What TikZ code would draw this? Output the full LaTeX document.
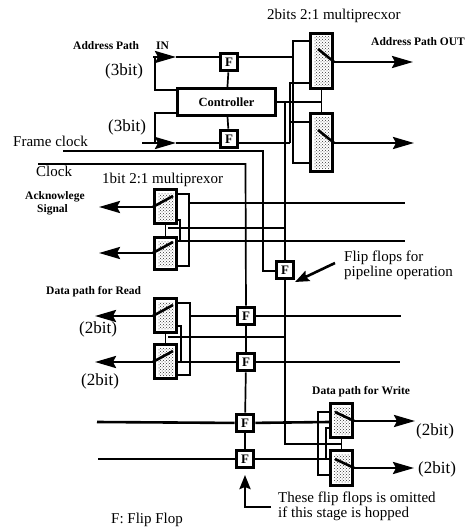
\documentclass[tikz,border=0pt]{standalone}
\usepackage{fontspec}
\setmainfont{Liberation Serif}
\usetikzlibrary{arrows.meta,patterns}
\tikzset{
  bus/.style={black, line width=2.6pt},
  wire/.style={black, line width=1.7pt},
  busarrow/.style={black, line width=2.6pt, -{Stealth[length=21pt,width=12pt,inset=3pt]}},
  pointer/.style={black, line width=2.6pt, -{Stealth[length=14pt,width=11pt,inset=2pt]}},
  ffbox/.style={draw, line width=3.4pt, fill=white, minimum size=17.5pt, inner sep=0pt, font=\bfseries\fontsize{13}{13}\selectfont},
  muxbox/.style={draw, line width=3.4pt, pattern=crosshatch dots, pattern color=black!80, minimum width=22pt, inner sep=0pt,
    path picture={\draw[white, line width=6pt] (path picture bounding box.south west) rectangle (path picture bounding box.north east);}},
  ctrlbox/.style={draw, line width=3.4pt, fill=white, minimum width=98pt, minimum height=27pt, font=\bfseries\fontsize{12.5}{12.5}\selectfont},
  bigtxt/.style={anchor=west, inner sep=0pt, font=\fontsize{15}{15}\selectfont},
  bittxt/.style={anchor=west, inner sep=0pt, font=\fontsize{17}{17}\selectfont},
  smalltxt/.style={anchor=west, inner sep=0pt, font=\bfseries\fontsize{11.5}{11.5}\selectfont},
}
\begin{document}
\begin{tikzpicture}[x=1pt, y=-1pt]
\useasboundingbox (0,0) rectangle (470,527);
% boxes
\node[ctrlbox] (ctrl) at (226.5,102) {Controller};
\node[ffbox] (ffUp) at (229,62) {F};
\node[ffbox] (ffLow) at (229,139) {F};
\node[ffbox] (ffPipe) at (285,270) {F};
\node[ffbox] (ffRdA) at (246,316) {F};
\node[ffbox] (ffRdB) at (246,362) {F};
\node[ffbox] (ffWrA) at (245,423) {F};
\node[ffbox] (ffWrB) at (245,459) {F};
\node[muxbox, minimum height=55pt] (muxTop) at (321.5,61) {};
\node[muxbox, minimum height=58pt] (muxBot) at (321.5,142.5) {};
\node[muxbox, minimum height=34pt] (muxAckA) at (165.5,206.5) {};
\node[muxbox, minimum height=32pt] (muxAckB) at (165.5,253.5) {};
\node[muxbox, minimum height=34pt] (muxRdA) at (165.5,315.5) {};
\node[muxbox, minimum height=34pt] (muxRdB) at (165.5,361.5) {};
\node[muxbox, minimum height=34pt] (muxWrA) at (341.5,420.5) {};
\node[muxbox, minimum height=35pt] (muxWrB) at (341.5,468) {};
% free ends
\coordinate (inUp) at (153,57);
\coordinate (inLow) at (142,143);
\coordinate (frameStart) at (63,151);
\coordinate (clockStart) at (38,164);
\coordinate (ackOutA) at (99,207);
\coordinate (ackOutB) at (99,253);
\coordinate (rdOutA) at (95,316);
\coordinate (rdOutB) at (95,362);
\coordinate (topOutA) at (413,62);
\coordinate (topOutB) at (414,143);
\coordinate (wrOutA) at (415,421);
\coordinate (wrOutB) at (414,468);
\coordinate (wrInA) at (97,422);
\coordinate (wrInB) at (98,459);
\coordinate (ackInA) at (405,203);
\coordinate (ackInB) at (405,241);
\coordinate (rdInA) at (401,316);
\coordinate (rdInB) at (400,362);
% address path
\draw[busarrow] (inUp) -- (176,57);
\draw[bus] (176,57) -- (ffUp.west |- 0,57);
\draw[busarrow] (inLow) -- (176,143);
\draw[bus] (176,143) -- (ffLow.west |- 0,143);
\draw[bus] (155,57) |- (ctrl.west |- 0,90);
\draw[bus] (155,143) |- (ctrl.west |- 0,113);
\draw[wire] (ffUp) -- (ctrl);
\draw[wire] (ctrl) -- (ffLow);
\draw[bus] (ffUp.east |- 0,57) -- (293,57);
\draw[bus] (ffLow.east |- 0,143) -- (290,143);
\draw[bus] (muxTop.west |- 0,41) -| (293,163) -- (muxBot.west |- 0,163);
\draw[bus] (muxTop.west |- 0,83) -| (290,143);
\draw[bus] (290,122) -- (muxBot.west |- 0,122);
\draw[wire] (muxTop) -- (muxBot);
\draw[wire] (ctrl) -- (290,102);
\draw[wire] (290,102) -- (321,102);
\draw[busarrow] (muxTop.east |- topOutA) -- (topOutA);
\draw[busarrow] (muxBot.east |- topOutB) -- (topOutB);
\draw[bus] (318,49) -- (muxTop.east |- topOutA);
\draw[bus] (318,130) -- (muxBot.east |- topOutB);
% clocks
\draw[wire] (frameStart) -- (263,151) -- (263,271) -- (ffPipe.west |- 0,271);
\draw[wire] (clockStart) -- (245.5,164) -- (ffRdA);
\draw[wire] (ffRdA) -- (ffRdB);
\draw[wire] (ffRdB) -- (ffWrA);
\draw[wire] (ffWrA) -- (ffWrB);
% select line
\draw[wire] (285,102) -- (ffPipe);
\draw[wire] (ffPipe) -- (285,444) -- (muxWrA.south |- 0,444);
\draw[wire] (285,228) -- (168,228);
\draw[wire] (285,337) -- (168,337);
\draw[wire] (muxAckA) -- (muxAckB);
\draw[wire] (muxRdA) -- (muxRdB);
\draw[wire] (muxWrA) -- (muxWrB);
% acknowledge
\draw[busarrow] (muxAckA.west |- ackOutA) -- (ackOutA);
\draw[busarrow] (muxAckB.west |- ackOutB) -- (ackOutB);
\draw[bus] (173,196) -- (muxAckA.west |- ackOutA);
\draw[bus] (173,242) -- (muxAckB.west |- ackOutB);
\draw[wire] (muxAckA.east |- 0,194) -| (189,266) -- (muxAckB.east |- 0,266);
\draw[wire] (189,203) -- (ackInA);
\draw[wire] (muxAckB.east |- 0,241) -- (ackInB);
\draw[bus] (muxAckA.east |- 0,220) -| (180,241);
% read
\draw[busarrow] (muxRdA.west |- rdOutA) -- (rdOutA);
\draw[busarrow] (muxRdB.west |- rdOutB) -- (rdOutB);
\draw[bus] (173,305) -- (muxRdA.west |- rdOutA);
\draw[bus] (173,351) -- (muxRdB.west |- rdOutB);
\draw[bus] (muxRdA.east |- 0,303) -| (190,375) -- (muxRdB.east |- 0,375);
\draw[bus] (190,316) -- (ffRdA);
\draw[bus] (ffRdA) -- (rdInA);
\draw[bus] (muxRdB.east |- 0,362) -- (ffRdB);
\draw[bus] (ffRdB) -- (rdInB);
\draw[bus] (muxRdA.east |- 0,326) -| (181,362);
% write
\draw[bus] (wrInA) -- (ffWrA);
\draw[bus] (ffWrA) -- (muxWrA.west |- 0,422);
\draw[bus] (wrInB) -- (ffWrB);
\draw[bus] (ffWrB) -- (muxWrB.west |- 0,459);
\draw[bus] (muxWrA.west |- 0,412) -| (318,475) -- (muxWrB.west |- 0,475);
\draw[bus] (muxWrA.west |- 0,428) -| (326,459);
\draw[busarrow] (muxWrA.east |- wrOutA) -- (wrOutA);
\draw[busarrow] (muxWrB.east |- wrOutB) -- (wrOutB);
\draw[bus] (335,412) -- (muxWrA.east |- wrOutA);
\draw[bus] (335,459) -- (muxWrB.east |- wrOutB);
% pointers
\coordinate (pipeTail) at (335,263);
\draw[pointer] (pipeTail) -- (295,282);
\coordinate (hopTail) at (271,507);
\draw[pointer] (hopTail) -- (245,507) -- (ffWrB.south |- 0,475);
% labels
\node[bigtxt] (muxTopTxt) at (267,16) {2bits 2:1 multiprecxor};
\node[smalltxt] (addrIn) at (73,46) {Address Path};
\node[smalltxt] (inTxt) at (156,46) {IN};
\node[smalltxt] (addrOut) at (371,42) {Address Path OUT};
\node[bittxt] (bitA) at (105,71) {(3bit)};
\node[bittxt] (bitB) at (108,127) {(3bit)};
\node[bigtxt] (frameTxt) at (13,141) {Frame clock};
\node[bigtxt] (clockTxt) at (36,171) {Clock};
\node[bigtxt] (muxAckTxt) at (102,180) {1bit 2:1 multiprexor};
\node[smalltxt] (ackTxt) at (25,197) {Acknowlege};
\node[smalltxt] (sigTxt) at (37,210) {Signal};
\node[bigtxt] (pipeTxtA) at (344,258) {Flip flops for};
\node[bigtxt] (pipeTxtB) at (344,273) {pipeline operation};
\node[smalltxt] (readTxt) at (46,292) {Data path for Read};
\node[bittxt] (bitC) at (79,329) {(2bit)};
\node[bittxt] (bitD) at (81,381) {(2bit)};
\node[smalltxt] (writeTxt) at (312,392) {Data path for Write};
\node[bittxt] (bitE) at (416,431) {(2bit)};
\node[bittxt] (bitF) at (418,469) {(2bit)};
\node[bigtxt] (hopTxtA) at (278,499) {These flip flops is omitted};
\node[bigtxt] (hopTxtB) at (278,514) {if this stage is hopped};
\node[bigtxt] (keyTxt) at (111,520) {F: Flip Flop};
\end{tikzpicture}
\end{document}
